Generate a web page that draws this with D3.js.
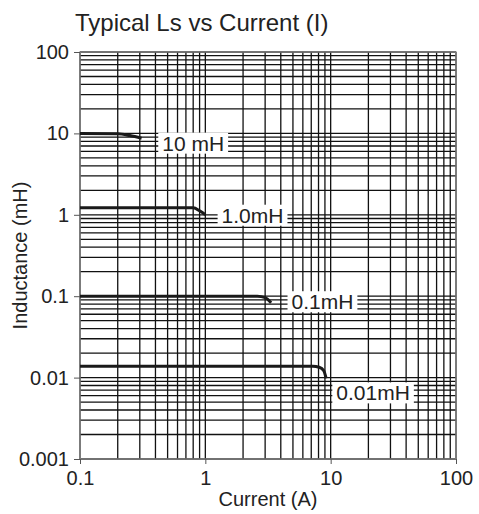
<!DOCTYPE html>
<html>
<head>
<meta charset="utf-8">
<script src="https://cdn.jsdelivr.net/npm/d3@7"></script>
<style>
  body { margin: 0; background: #fff; }
  text { font-family: "Liberation Sans", Arial, sans-serif; fill: #222; }
</style>
</head>
<body>
<svg id="chart" width="479" height="514"></svg>
<script>
// curve data (current in A, inductance in mH)
const curve10 = [[0.1, 10], [0.2, 9.9], [0.25, 9.4], [0.31, 8.7]]
const curve1 = [[0.1, 1.22], [0.8, 1.22], [0.9, 1.12], [1.0, 1.0]]
const curve01 = [[0.1, 0.1], [2.6, 0.1], [3.0, 0.096], [3.35, 0.083]]
const curve001 = [[0.1, 0.0138], [7.2, 0.0138], [8.1, 0.0134], [8.8, 0.0122], [9.2, 0.0098]]
const curveLabels = ['10 mH', '1.0mH', '0.1mH', '0.01mH']
// label centres (current, inductance)
const labelPos = [[0.8, 7.6], [2.38, 0.99], [8.6, 0.0857], [21.8, 0.0065]]
const xTicks = [0.1, 1, 10, 100]
const yTicks = [0.001, 0.01, 0.1, 1, 10, 100]
const xTickLabels = ['0.1', '1', '10', '100']
const yTickLabels = ['0.001', '0.01', '0.1', '1', '10', '100']

const margins = { left: 80, top: 52, right: 23, bottom: 55 }
const width = 479 - margins.left - margins.right
const height = 514 - margins.top - margins.bottom

const x = d3.scaleLog().domain([0.1, 100]).range([0, width])
const y = d3.scaleLog().domain([0.001, 100]).range([height, 0])

const svg = d3.select('#chart')
const g = svg.append('g').attr('transform', `translate(${margins.left},${margins.top})`)

// minor + major grid values
const gridVals = (lo, hi) => {
  let out = []
  for (let d = lo; d < hi * 0.99; d *= 10) {
    for (let k = 1; k <= 9; k++) out.push(d * k)
  }
  out.push(hi)
  return out
}

g.selectAll('.vgrid')
  .data(gridVals(0.1, 100))
  .enter().append('line')
  .attr('x1', d => x(d)).attr('x2', d => x(d))
  .attr('y1', 0).attr('y2', height)
  .attr('stroke', '#111').attr('stroke-width', 1.3)

g.selectAll('.hgrid')
  .data(gridVals(0.001, 100))
  .enter().append('line')
  .attr('y1', d => y(d)).attr('y2', d => y(d))
  .attr('x1', 0).attr('x2', width)
  .attr('stroke', '#111').attr('stroke-width', 1.3)

// border
g.append('rect')
  .attr('x', 0).attr('y', 0).attr('width', width).attr('height', height)
  .attr('fill', 'none').attr('stroke', '#888').attr('stroke-width', 1.3)

// axes
const xAxis = d3.axisBottom(x).tickValues(xTicks).tickFormat((d, i) => xTickLabels[i]).tickSize(5).tickSizeOuter(0)
const yAxis = d3.axisLeft(y).tickValues(yTicks).tickFormat((d, i) => yTickLabels[i]).tickSize(6).tickSizeOuter(0)

const gx = g.append('g').attr('transform', `translate(0,${height})`).call(xAxis)
const gy = g.append('g').call(yAxis)
;[gx, gy].forEach(a => {
  a.select('.domain').remove()
  a.selectAll('line').attr('stroke', '#555')
  a.selectAll('text').style('font-size', '20px').attr('fill', '#222')
})
gx.selectAll('text').attr('y', 12).attr('dy', '0.71em')
gy.selectAll('text').attr('x', -11)

// curves
const line = d3.line().x(d => x(d[0])).y(d => y(d[1])).curve(d3.curveMonotoneX)
;[curve10, curve1, curve01, curve001].forEach(c => {
  g.append('path').datum(c)
    .attr('d', line)
    .attr('fill', 'none')
    .attr('stroke', '#1a1a1a')
    .attr('stroke-width', 3)
})

// curve labels with white boxes
curveLabels.forEach((t, i) => {
  const lg = g.append('g')
  const txt = lg.append('text')
    .attr('x', x(labelPos[i][0])).attr('y', y(labelPos[i][1]))
    .attr('text-anchor', 'middle').attr('dy', '0.36em')
    .style('font-size', '21px')
    .text(t)
  const b = txt.node().getBBox()
  lg.insert('rect', 'text')
    .attr('x', b.x - 4).attr('y', b.y + 1).attr('width', b.width + 8).attr('height', b.height - 2)
    .attr('fill', '#fff')
})

// title and axis labels
svg.append('text').attr('x', 75).attr('y', 31).style('font-size', '24px').text('Typical Ls vs Current (I)')
svg.append('text').attr('x', margins.left + width / 2).attr('y', 506).attr('text-anchor', 'middle')
  .style('font-size', '20px').text('Current (A)')
svg.append('text').attr('transform', `translate(27,${margins.top + height / 2}) rotate(-90)`)
  .attr('text-anchor', 'middle').style('font-size', '20px').text('Inductance (mH)')
</script>
</body>
</html>
